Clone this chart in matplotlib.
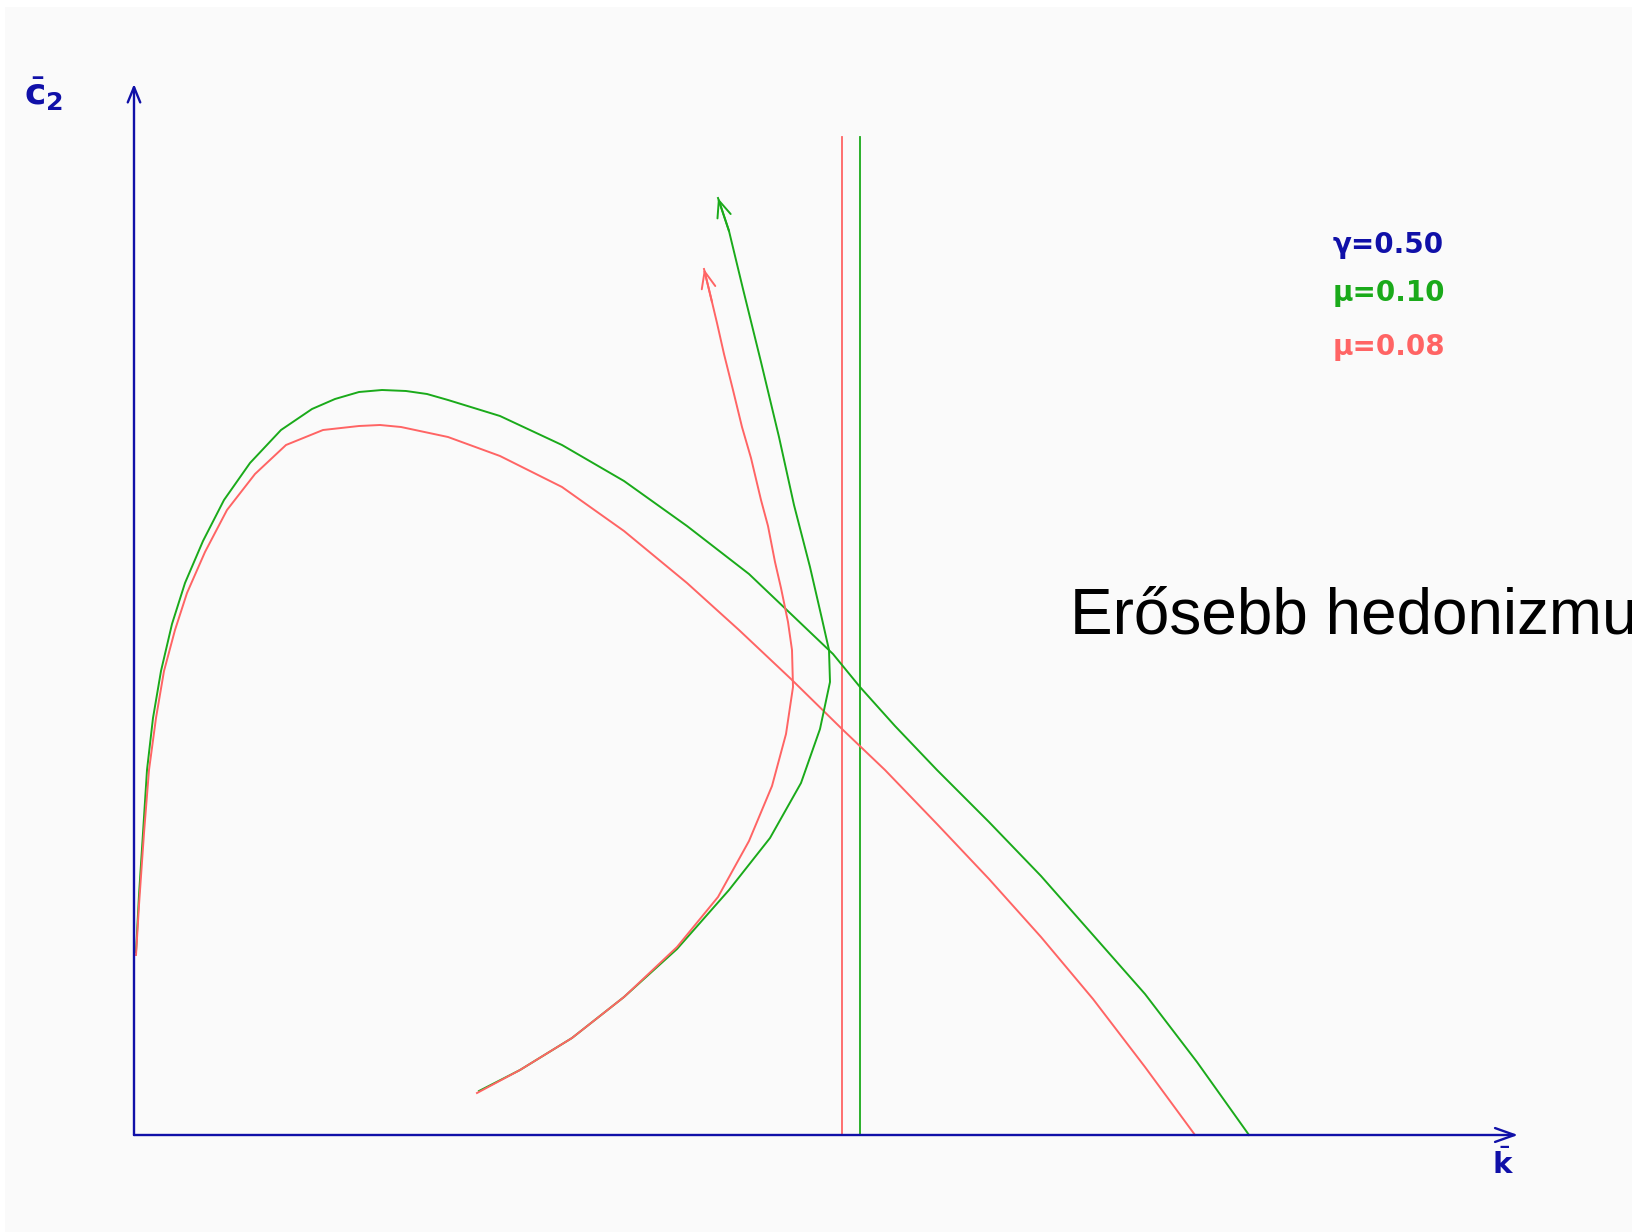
import matplotlib
matplotlib.use("Agg")
import matplotlib.pyplot as plt
from matplotlib.patches import Rectangle

# --- phase-diagram data (k̄ on the horizontal axis, c̄₂ on the vertical) ---
# c̄₂ = const locus (hump) for μ = 0.10
hump_mu10_k = [0.002, 0.005, 0.009, 0.013, 0.019, 0.027, 0.038, 0.051, 0.069, 0.090,
               0.116, 0.147, 0.178, 0.201, 0.225, 0.248, 0.272, 0.293, 0.314, 0.366,
               0.428, 0.490, 0.553, 0.615, 0.657, 0.699, 0.726, 0.761, 0.803, 0.855,
               0.907, 0.959, 1.011, 1.063, 1.115]
hump_mu10_c = [0.183, 0.240, 0.302, 0.365, 0.417, 0.464, 0.511, 0.552, 0.594, 0.635,
               0.672, 0.705, 0.726, 0.736, 0.743, 0.745, 0.744, 0.741, 0.735, 0.719,
               0.690, 0.654, 0.609, 0.561, 0.521, 0.481, 0.448, 0.409, 0.365, 0.313,
               0.259, 0.200, 0.141, 0.073, 0.000]

# c̄₂ = const locus (hump) for μ = 0.08
hump_mu08_k = [0.002, 0.005, 0.010, 0.015, 0.022, 0.030, 0.041, 0.053, 0.071, 0.093,
               0.121, 0.152, 0.189, 0.207, 0.225, 0.246, 0.267, 0.314, 0.366, 0.428,
               0.490, 0.553, 0.605, 0.657, 0.708, 0.751, 0.803, 0.855, 0.907, 0.959,
               1.011, 1.061]
hump_mu08_c = [0.180, 0.230, 0.302, 0.365, 0.417, 0.464, 0.505, 0.542, 0.583, 0.625,
               0.661, 0.690, 0.705, 0.707, 0.709, 0.710, 0.708, 0.698, 0.679, 0.648,
               0.604, 0.552, 0.505, 0.456, 0.406, 0.365, 0.311, 0.256, 0.198, 0.136,
               0.068, 0.000]

# trajectories
path_mu10_k = [0.345, 0.386, 0.438, 0.490, 0.543, 0.595, 0.636, 0.667, 0.686, 0.696,
               0.695, 0.688, 0.676, 0.660, 0.645, 0.627, 0.609, 0.595, 0.584]
path_mu10_c = [0.044, 0.065, 0.097, 0.138, 0.186, 0.245, 0.297, 0.352, 0.406, 0.453,
               0.485, 0.516, 0.568, 0.630, 0.698, 0.773, 0.846, 0.904, 0.937]

path_mu08_k = [0.343, 0.386, 0.438, 0.490, 0.543, 0.584, 0.615, 0.638, 0.652, 0.659,
               0.658, 0.654, 0.647, 0.641, 0.634, 0.627, 0.617, 0.608, 0.599, 0.590,
               0.583, 0.578, 0.570]
path_mu08_c = [0.042, 0.065, 0.097, 0.138, 0.188, 0.238, 0.294, 0.349, 0.401, 0.448,
               0.485, 0.513, 0.547, 0.573, 0.609, 0.635, 0.677, 0.708, 0.745, 0.781,
               0.812, 0.833, 0.866]

# k̄ = const loci (vertical lines)
kline_mu10 = 0.726
kline_mu08 = 0.708
kline_top = 0.998

# axis extents
k_axis_end = 1.384
c_axis_end = 1.051

legend_labels = ["γ=0.50", "μ=0.10", "μ=0.08"]
legend_c = [0.890, 0.842, 0.788]
annotation_text = "Erősebb hedonizmus"

BLUE = "#1010a8"
GREEN = "#1aaa1a"
RED = "#ff6464"

fig = plt.figure(figsize=(16.32, 12.32), dpi=100)
fig.patch.set_facecolor("white")
fig.add_artist(Rectangle((5 / 1632, 0), 1 - 5 / 1632, 1 - 7 / 1232,
                         transform=fig.transFigure, facecolor="#fafafa",
                         edgecolor="none", zorder=0))

ax = fig.add_axes([0, 0, 1, 1])
ax.set_xlim(-0.134, 1.498)
ax.set_ylim(-0.097, 1.135)
ax.set_axis_off()
ax.patch.set_alpha(0)

# axes with open arrowheads
ax.annotate("", xy=(0, c_axis_end), xytext=(0, 0),
            arrowprops=dict(arrowstyle="->,head_length=1.1,head_width=0.45",
                            color=BLUE, lw=1.7, shrinkA=0, shrinkB=0))
ax.annotate("", xy=(k_axis_end, 0), xytext=(0, 0),
            arrowprops=dict(arrowstyle="->,head_length=1.4,head_width=0.5",
                            color=BLUE, lw=1.7, shrinkA=0, shrinkB=0))

# vertical k̄ loci
ax.plot([kline_mu08, kline_mu08], [0, kline_top], color=RED, lw=1.3)
ax.plot([kline_mu10, kline_mu10], [0, kline_top], color=GREEN, lw=1.3)

# humps
ax.plot(hump_mu10_k, hump_mu10_c, color=GREEN, lw=1.4)
ax.plot(hump_mu08_k, hump_mu08_c, color=RED, lw=1.4)

# trajectories with arrowheads at their ends
for ks, cs, col in [(path_mu10_k, path_mu10_c, GREEN),
                    (path_mu08_k, path_mu08_c, RED)]:
    ax.plot(ks, cs, color=col, lw=1.4)
    ax.annotate("", xy=(ks[-1], cs[-1]), xytext=(ks[-2], cs[-2]),
                arrowprops=dict(arrowstyle="->,head_length=1.2,head_width=0.5",
                                color=col, lw=1.4, shrinkA=0, shrinkB=0))

# axis labels
ax.text(-0.110, 1.030, r"$\bar{\mathbf{c}}_{\mathbf{2}}$", color=BLUE,
        fontsize=26, ha="left", va="baseline")
ax.text(1.369, -0.045, r"$\bar{\mathbf{k}}$", color=BLUE,
        fontsize=21, ha="center", va="bottom")

# parameter legend
for lab, cy, col in zip(legend_labels, legend_c, [BLUE, GREEN, RED]):
    ax.text(1.199, cy, lab, color=col, fontsize=20, fontweight="bold",
            family="DejaVu Sans", ha="left", va="center")

ax.text(0.936, 0.502, annotation_text, color="black", fontsize=46,
        family=["Liberation Sans", "DejaVu Sans"], ha="left", va="baseline",
        clip_on=False)

fig.savefig("out.png", dpi=100)
